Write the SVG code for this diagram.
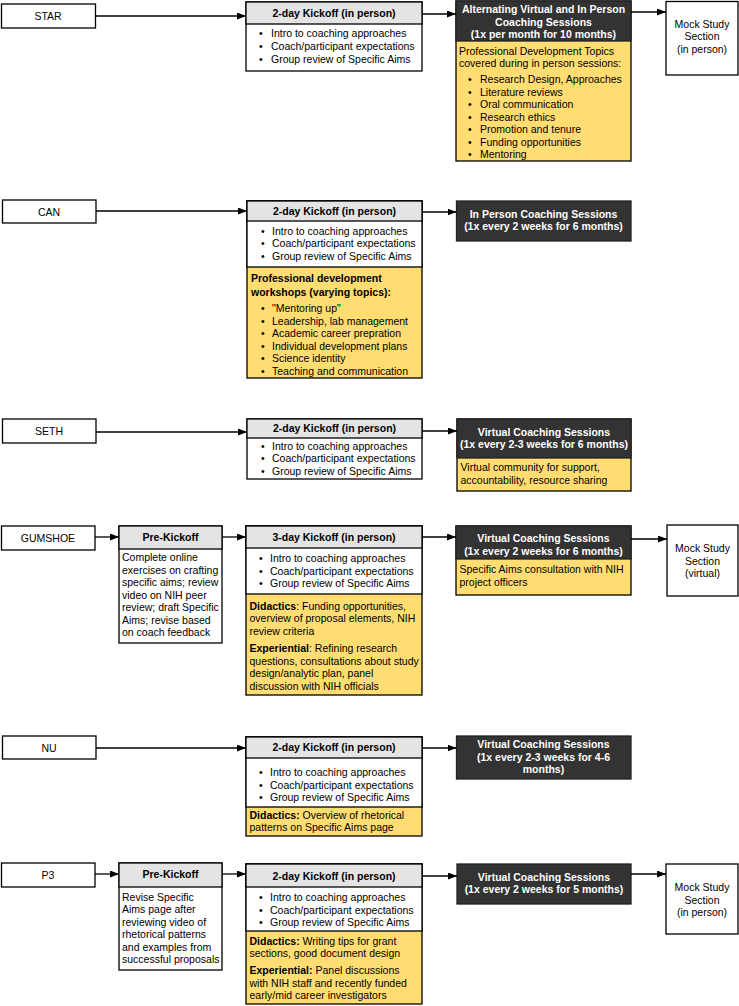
<svg xmlns="http://www.w3.org/2000/svg" width="739" height="1006" viewBox="0 0 739 1006">
<defs>
<marker id="ah" markerUnits="userSpaceOnUse" markerWidth="9" markerHeight="7" refX="9" refY="3.5" orient="auto"><path d="M0,0 L9,3.5 L0,7 z" fill="#000"/></marker>
<style>
.box{fill:#fff;stroke:#000;stroke-width:1.3}
.hdr{fill:#e4e4e4;stroke:#000;stroke-width:1.3}
.dark{fill:#333;stroke:#222;stroke-width:1.3}
.yel{fill:#ffdd72;stroke:#000;stroke-width:1.3}
text{font-family:"Liberation Sans",Arial,sans-serif;font-size:10.5px;fill:#000}
.c{text-anchor:middle}
.b{font-weight:bold}
.w{fill:#fff;font-weight:bold;text-anchor:middle}
.con line{stroke:#000;stroke-width:1.3;marker-end:url(#ah)}
</style>
</defs>
<rect width="739" height="1006" fill="#fff"/>

<!-- STAR row -->
<g id="star"><rect class="box" x="1.5" y="4" width="94" height="24"/><text class="c" x="48" y="20">STAR</text></g>
<g id="star-kickoff">
<rect class="box" x="246" y="2" width="176" height="69"/><rect class="hdr" x="246" y="2" width="176" height="22"/>
<text class="c b" x="334" y="17">2-day Kickoff (in person)</text>
<text x="259" y="37">•</text><text x="271" y="37">Intro to coaching approaches</text>
<text x="259" y="50">•</text><text x="271" y="50">Coach/participant expectations</text>
<text x="259" y="63">•</text><text x="271" y="63">Group review of Specific Aims</text>
</g>
<g id="star-sessions">
<rect class="yel" x="456" y="1" width="175" height="160"/><rect class="dark" x="456" y="1" width="175" height="40"/>
<text class="w" x="543.5" y="13">Alternating Virtual and In Person</text>
<text class="w" x="543.5" y="25.5">Coaching Sessions</text>
<text class="w" x="543.5" y="38">(1x per month for 10 months)</text>
<text x="459" y="55">Professional Development Topics</text>
<text x="459" y="67">covered during in person sessions:</text>
<text x="468" y="83">•</text><text x="480" y="83">Research Design, Approaches</text>
<text x="468" y="95.5">•</text><text x="480" y="95.5">Literature reviews</text>
<text x="468" y="108">•</text><text x="480" y="108">Oral communication</text>
<text x="468" y="120.5">•</text><text x="480" y="120.5">Research ethics</text>
<text x="468" y="133">•</text><text x="480" y="133">Promotion and tenure</text>
<text x="468" y="145.5">•</text><text x="480" y="145.5">Funding opportunities</text>
<text x="468" y="158">•</text><text x="480" y="158">Mentoring</text>
</g>
<g id="star-mock"><rect class="box" x="666" y="1.5" width="72" height="73.5"/>
<text class="c" x="702" y="28">Mock Study</text><text class="c" x="702" y="40">Section</text><text class="c" x="702" y="53">(in person)</text></g>

<!-- CAN row -->
<g id="can"><rect class="box" x="2.5" y="200" width="93.5" height="23"/><text class="c" x="49" y="215.5">CAN</text></g>
<g id="can-kickoff">
<rect class="yel" x="247" y="201" width="175" height="177"/><rect class="box" x="247" y="201" width="175" height="66"/><rect class="hdr" x="247" y="201" width="175" height="20"/>
<text class="c b" x="334.5" y="215">2-day Kickoff (in person)</text>
<text x="261" y="234.5">•</text><text x="272" y="234.5">Intro to coaching approaches</text>
<text x="261" y="247">•</text><text x="272" y="247">Coach/participant expectations</text>
<text x="261" y="259.5">•</text><text x="272" y="259.5">Group review of Specific Aims</text>
<text class="b" x="251" y="282">Professional development</text>
<text class="b" x="251" y="295.5">workshops (varying topics):</text>
<text x="261" y="312">•</text><text x="272" y="312">"Mentoring up"</text>
<text x="261" y="324.5">•</text><text x="272" y="324.5">Leadership, lab management</text>
<text x="261" y="337">•</text><text x="272" y="337">Academic career prepration</text>
<text x="261" y="349.5">•</text><text x="272" y="349.5">Individual development plans</text>
<text x="261" y="362">•</text><text x="272" y="362">Science identity</text>
<text x="261" y="374.5">•</text><text x="272" y="374.5">Teaching and communication</text>
</g>
<g id="can-sessions"><rect class="dark" x="456.5" y="201" width="174.5" height="40"/>
<text class="w" x="543.5" y="218">In Person Coaching Sessions</text><text class="w" x="543.5" y="230">(1x every 2 weeks for 6 months)</text></g>

<!-- SETH row -->
<g id="seth"><rect class="box" x="2.5" y="419" width="93.5" height="24"/><text class="c" x="49" y="435">SETH</text></g>
<g id="seth-kickoff">
<rect class="box" x="247" y="419" width="175" height="60"/><rect class="hdr" x="247" y="419" width="175" height="19"/>
<text class="c b" x="334.5" y="432">2-day Kickoff (in person)</text>
<text x="261" y="449.5">•</text><text x="272" y="449.5">Intro to coaching approaches</text>
<text x="261" y="462">•</text><text x="272" y="462">Coach/participant expectations</text>
<text x="261" y="474.5">•</text><text x="272" y="474.5">Group review of Specific Aims</text>
</g>
<g id="seth-sessions">
<rect class="yel" x="457" y="419" width="174" height="72"/><rect class="dark" x="457" y="419" width="174" height="39"/>
<text class="w" x="544" y="435.5">Virtual Coaching Sessions</text><text class="w" x="544" y="448">(1x every 2-3 weeks for 6 months)</text>
<text x="460.5" y="471">Virtual community for support,</text><text x="460.5" y="483.5">accountability, resource sharing</text>
</g>

<!-- GUMSHOE row -->
<g id="gumshoe"><rect class="box" x="1.5" y="526" width="93.5" height="24"/><text class="c" x="48" y="541.5">GUMSHOE</text></g>
<g id="gumshoe-prekickoff">
<rect class="box" x="119" y="526" width="103" height="117"/><rect class="hdr" x="119" y="526" width="103" height="23"/>
<text class="c b" x="170.5" y="541">Pre-Kickoff</text>
<text x="122" y="561">Complete online</text>
<text x="122" y="573.5">exercises on crafting</text>
<text x="122" y="586">specific aims; review</text>
<text x="122" y="598.5">video on NIH peer</text>
<text x="122" y="611">review; draft Specific</text>
<text x="122" y="623.5">Aims; revise based</text>
<text x="122" y="636">on coach feedback</text>
</g>
<g id="gumshoe-kickoff">
<rect class="yel" x="246" y="526" width="176" height="169"/><rect class="box" x="246" y="526" width="176" height="68"/><rect class="hdr" x="246" y="526" width="176" height="22"/>
<text class="c b" x="334" y="541">3-day Kickoff (in person)</text>
<text x="259" y="562">•</text><text x="270" y="562">Intro to coaching approaches</text>
<text x="259" y="574.5">•</text><text x="270" y="574.5">Coach/participant expectations</text>
<text x="259" y="587">•</text><text x="270" y="587">Group review of Specific Aims</text>
<text x="249.5" y="609.5"><tspan class="b">Didactics</tspan>: Funding opportunities,</text>
<text x="249.5" y="622">overview of proposal elements, NIH</text>
<text x="249.5" y="634.5">review criteria</text>
<text x="249.5" y="652"><tspan class="b">Experiential</tspan>: Refining research</text>
<text x="249.5" y="664.5">questions, consultations about study</text>
<text x="249.5" y="677">design/analytic plan, panel</text>
<text x="249.5" y="689.5">discussion with NIH officials</text>
</g>
<g id="gumshoe-sessions">
<rect class="yel" x="456" y="526" width="175" height="69"/><rect class="dark" x="456" y="526" width="175" height="33"/>
<text class="w" x="543.5" y="542">Virtual Coaching Sessions</text><text class="w" x="543.5" y="554.5">(1x every 2 weeks for 6 months)</text>
<text x="459.5" y="573">Specific Aims consultation with NIH</text><text x="459.5" y="585.5">project officers</text>
</g>
<g id="gumshoe-mock"><rect class="box" x="667" y="525" width="71" height="71"/>
<text class="c" x="702.5" y="552">Mock Study</text><text class="c" x="702.5" y="564.5">Section</text><text class="c" x="702.5" y="577">(virtual)</text></g>

<!-- NU row -->
<g id="nu"><rect class="box" x="2.5" y="736" width="93.5" height="23"/><text class="c" x="49" y="751.5">NU</text></g>
<g id="nu-kickoff">
<rect class="yel" x="246" y="737" width="176" height="99"/><rect class="box" x="246" y="737" width="176" height="70"/><rect class="hdr" x="246" y="737" width="176" height="21"/>
<text class="c b" x="334" y="751">2-day Kickoff (in person)</text>
<text x="259" y="776">•</text><text x="270" y="776">Intro to coaching approaches</text>
<text x="259" y="788.5">•</text><text x="270" y="788.5">Coach/participant expectations</text>
<text x="259" y="801">•</text><text x="270" y="801">Group review of Specific Aims</text>
<text x="249.5" y="818.5"><tspan class="b">Didactics:</tspan> Overview of rhetorical</text>
<text x="249.5" y="831">patterns on Specific Aims page</text>
</g>
<g id="nu-sessions"><rect class="dark" x="456.5" y="736" width="174.5" height="43"/>
<text class="w" x="543.5" y="748">Virtual Coaching Sessions</text><text class="w" x="543.5" y="760.5">(1x every 2-3 weeks for 4-6</text><text class="w" x="543.5" y="773">months)</text></g>

<!-- P3 row -->
<g id="p3"><rect class="box" x="1.5" y="863" width="93.5" height="24"/><text class="c" x="48" y="878.5">P3</text></g>
<g id="p3-prekickoff">
<rect class="box" x="119" y="863" width="103" height="107"/><rect class="hdr" x="119" y="863" width="103" height="24"/>
<text class="c b" x="170.5" y="878">Pre-Kickoff</text>
<text x="122" y="900.5">Revise Specific</text>
<text x="122" y="913">Aims page after</text>
<text x="122" y="925.5">reviewing video of</text>
<text x="122" y="938">rhetorical patterns</text>
<text x="122" y="950.5">and examples from</text>
<text x="122" y="963">successful proposals</text>
</g>
<g id="p3-kickoff">
<rect class="yel" x="246" y="864" width="176" height="140"/><rect class="box" x="246" y="864" width="176" height="67"/><rect class="hdr" x="246" y="864" width="176" height="23"/>
<text class="c b" x="334" y="879.5">2-day Kickoff (in person)</text>
<text x="259" y="901">•</text><text x="270" y="901">Intro to coaching approaches</text>
<text x="259" y="913.5">•</text><text x="270" y="913.5">Coach/participant expectations</text>
<text x="259" y="926">•</text><text x="270" y="926">Group review of Specific Aims</text>
<text x="249.5" y="944.5"><tspan class="b">Didactics:</tspan> Writing tips for grant</text>
<text x="249.5" y="957">sections, good document design</text>
<text x="249.5" y="974"><tspan class="b">Experiential:</tspan> Panel discussions</text>
<text x="249.5" y="986.5">with NIH staff and recently funded</text>
<text x="249.5" y="999">early/mid career investigators</text>
</g>
<g id="p3-sessions"><rect class="dark" x="457" y="864" width="174" height="40"/>
<text class="w" x="544" y="880.5">Virtual Coaching Sessions</text><text class="w" x="544" y="893">(1x every 2 weeks for 5 months)</text></g>
<g id="p3-mock"><rect class="box" x="666" y="864" width="72" height="70"/>
<text class="c" x="702" y="891">Mock Study</text><text class="c" x="702" y="903.5">Section</text><text class="c" x="702" y="916">(in person)</text></g>

<g id="connectors" class="con">
<line x1="95.5" y1="16" x2="246" y2="16"/>
<line x1="422" y1="14" x2="456" y2="14"/>
<line x1="631" y1="12" x2="666" y2="12"/>
<line x1="96" y1="211" x2="247" y2="211"/>
<line x1="422" y1="212" x2="456.5" y2="212"/>
<line x1="96" y1="432" x2="247" y2="432"/>
<line x1="422" y1="431" x2="457" y2="431"/>
<line x1="95" y1="537" x2="119" y2="537"/>
<line x1="222" y1="537" x2="246" y2="537"/>
<line x1="422" y1="537" x2="456" y2="537"/>
<line x1="631" y1="539" x2="667" y2="539"/>
<line x1="96" y1="748" x2="246" y2="748"/>
<line x1="422" y1="748" x2="456.5" y2="748"/>
<line x1="95" y1="874" x2="119" y2="874"/>
<line x1="222" y1="874" x2="246" y2="874"/>
<line x1="422" y1="876" x2="457" y2="876"/>
<line x1="631" y1="874" x2="666" y2="874"/>
</g>
</svg>
